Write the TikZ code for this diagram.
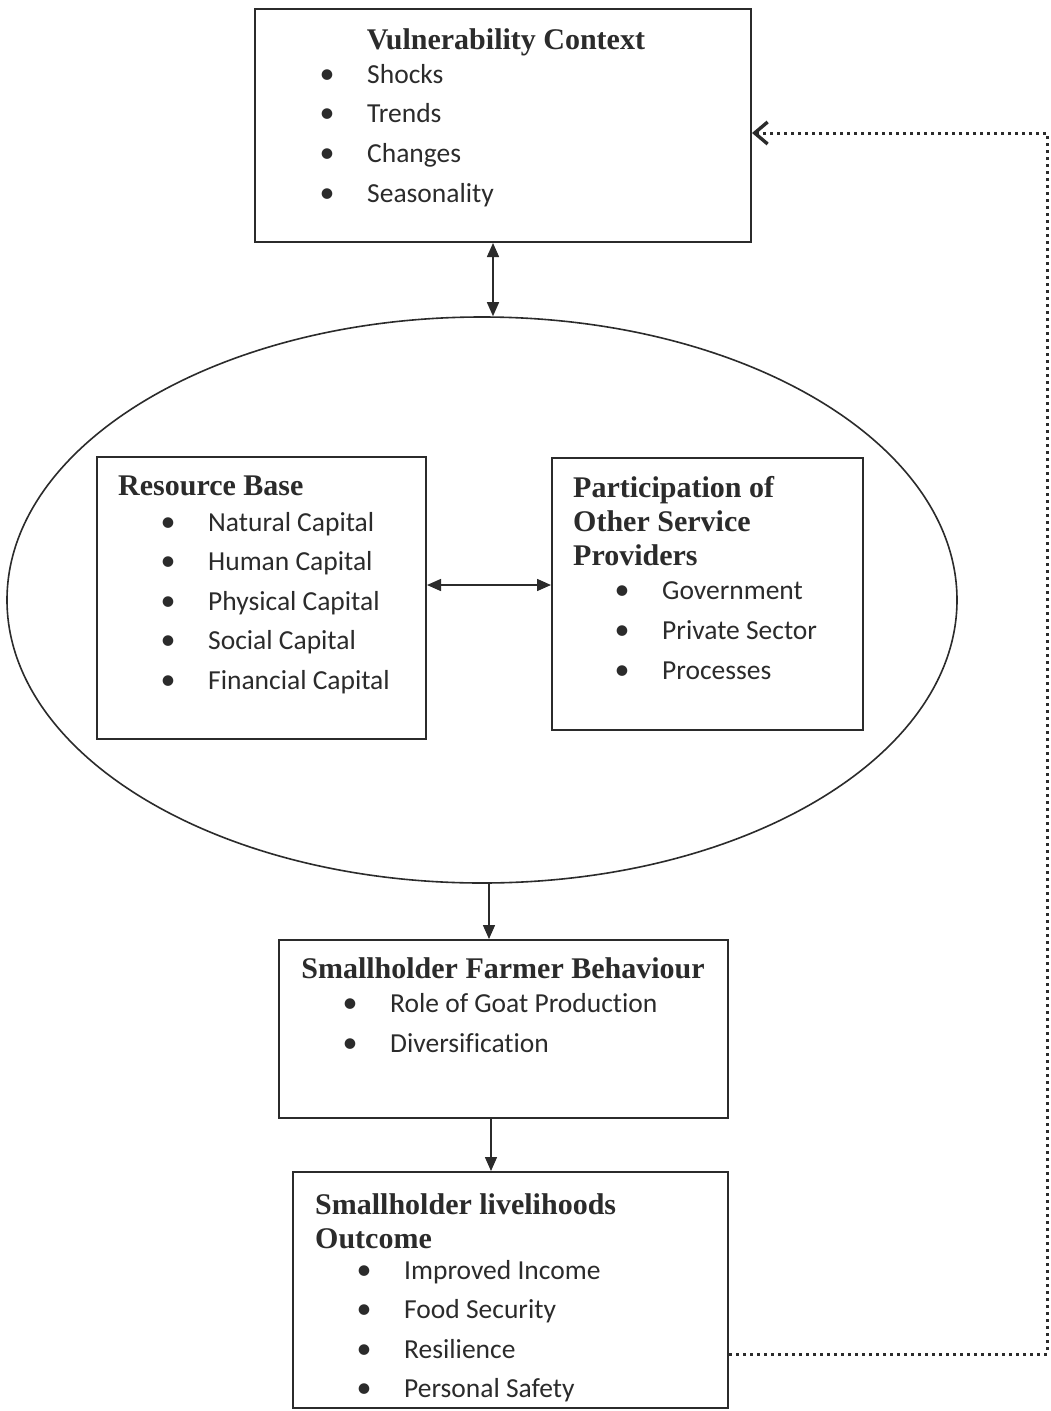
\documentclass[tikz,border=0pt]{standalone}
\usepackage{fontspec}
\setmainfont{Liberation Serif}
\newfontfamily\calibrifont[Ligatures=NoCommon]{Carlito}
\usetikzlibrary{arrows.meta,shapes.geometric}
\definecolor{ink}{HTML}{2B2B2B}
\tikzset{
  boxshape/.style={draw=ink, line width=2pt, rectangle, inner sep=0pt},
  ttl/.style={inner sep=0pt, text=ink, font=\fontsize{30}{34}\selectfont\bfseries},
  itm/.style={inner sep=0pt, anchor=base west, text=ink, font=\calibrifont\fontsize{27.5}{32}\selectfont},
  bul/.style={inner sep=0pt, anchor=base, text=ink, font=\calibrifont\fontsize{30}{32}\selectfont},
  conn/.style={draw=ink, line width=1.5pt, -{Triangle[length=14pt,width=12pt]}},
  dconn/.style={draw=ink, line width=1.5pt, {Triangle[length=14pt,width=12pt]}-{Triangle[length=14pt,width=12pt]}},
  feedback/.style={draw=ink, line width=3pt, dash pattern=on 3pt off 4pt, -{Straight Barb[length=13pt,width=22pt,line width=3.4pt]}}
}
\newcommand{\bitem}[4]{%
  \node[bul] (#1b) at (#2,#3) {•};
  \node[itm] (#1) at (#2+40,#3) {#4};}
\begin{document}
\begin{tikzpicture}[x=1pt,y=-1pt]
\useasboundingbox (0,0) rectangle (1051,1411);
\fill[white] (0,0) rectangle (1051,1411);

% Vulnerability context
\node[boxshape, minimum width=496pt, minimum height=233pt] (box1) at (503,125.5) {};
\node[ttl, anchor=base] (t1) at (506,49) {Vulnerability Context};
\bitem{v1}{327}{83}{Shocks}
\bitem{v2}{327}{122}{Trends}
\bitem{v3}{327}{162}{Changes}
\bitem{v4}{327}{202}{Seasonality}

% Ellipse
\node[draw=ink, line width=1.6pt, ellipse, inner sep=0pt, minimum width=950pt, minimum height=566pt] (ell) at (482,600) {};

% Resource base
\node[boxshape, minimum width=329pt, minimum height=282pt] (res) at (261.5,598) {};
\node[ttl, anchor=base west] (t2) at (118,495) {Resource Base};
\bitem{r1}{168}{531}{Natural Capital}
\bitem{r2}{168}{570}{Human Capital}
\bitem{r3}{168}{610}{Physical Capital}
\bitem{r4}{168}{649}{Social Capital}
\bitem{r5}{168}{689}{Financial Capital}

% Participation
\node[boxshape, minimum width=311pt, minimum height=272pt] (par) at (707.5,594) {};
\node[ttl, anchor=base west] (t3a) at (573,497) {Participation of};
\node[ttl, anchor=base west] (t3b) at (573,531) {Other Service};
\node[ttl, anchor=base west] (t3c) at (573,565) {Providers};
\bitem{p1}{622}{599}{Government}
\bitem{p2}{622}{639}{Private Sector}
\bitem{p3}{622}{679}{Processes}

% Farmer behaviour
\node[boxshape, minimum width=449pt, minimum height=178pt] (box3) at (503.5,1029) {};
\node[ttl, anchor=base] (t4) at (503,978) {Smallholder Farmer Behaviour};
\bitem{f1}{350}{1012}{Role of Goat Production}
\bitem{f2}{350}{1052}{Diversification}

% Livelihood outcome
\node[boxshape, minimum width=435pt, minimum height=236pt] (box4) at (510.5,1290) {};
\node[ttl, anchor=base west] (t5a) at (315,1214) {Smallholder livelihoods};
\node[ttl, anchor=base west] (t5b) at (315,1248) {Outcome};
\bitem{o1}{364}{1279}{Improved Income}
\bitem{o2}{364}{1318}{Food Security}
\bitem{o3}{364}{1358}{Resilience}
\bitem{o4}{364}{1397}{Personal Safety}

% Connectors
\coordinate (ax1) at (493,0);
\draw[dconn] (ax1 |- box1.south) -- (ax1 |- ell.north);
\coordinate (ax2) at (0,585);
\draw[dconn] (res.east |- ax2) -- (par.west |- ax2);
\coordinate (ax3) at (489,0);
\draw[conn] (ax3 |- ell.south) -- (ax3 |- box3.north);
\coordinate (ax4) at (491,0);
\draw[conn] (ax4 |- box3.south) -- (ax4 |- box4.north);

\coordinate (fb1) at (1047,1354);
\coordinate (fb2) at (1047,133);
\draw[feedback] (fb1 -| box4.east) -- (fb1) -- (fb2) -- (fb2 -| box1.east);
\end{tikzpicture}
\end{document}
